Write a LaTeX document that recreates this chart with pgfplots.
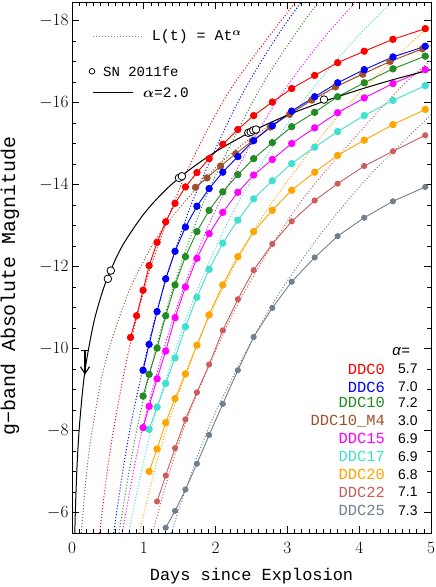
\documentclass[border=0pt]{standalone}
\usepackage{amsmath}
\usepackage{pgfplots}
\pgfplotsset{compat=1.18}
\usetikzlibrary{arrows.meta}
\usepackage{fontspec}
\setmainfont{Liberation Serif}
\newfontfamily\mono{Liberation Mono}
\newfontfamily\sans{Liberation Sans}

\definecolor{ddc0}{RGB}{255,0,0}
\definecolor{ddc6}{RGB}{0,0,255}
\definecolor{ddc10}{RGB}{34,139,34}
\definecolor{ddcm4}{RGB}{160,82,45}
\definecolor{ddc15}{RGB}{255,0,255}
\definecolor{ddc17}{RGB}{64,224,208}
\definecolor{ddc20}{RGB}{255,165,0}
\definecolor{ddc22}{RGB}{205,92,92}
\definecolor{ddc25}{RGB}{112,128,144}

\pgfplotsset{
  fit/.style={line width=1bp, dash pattern=on 1bp off 2bp, smooth},
  model/.style={line width=0.9bp, mark=*, mark size=3.2bp},
  small model/.style={line width=0.9bp, mark=*, mark size=2.6bp},
}

\begin{document}
\begin{tikzpicture}
\begin{axis}[
  scale only axis,
  width=359bp, height=531bp,
  xmin=0, xmax=5,
  ymin=-18.45, ymax=-5.5,
  y dir=reverse,
  xtick={0,1,2,3,4,5},
  ytick={-18,-16,-14,-12,-10,-8,-6},
  minor x tick num=9,
  minor y tick num=3,
  tick align=inside,
  major tick length=7bp,
  minor tick length=4bp,
  axis line style={line width=0.8bp},
  every tick/.style={black, line width=0.6bp},
  tick label style={font=\fontsize{19}{19}\selectfont},
  xticklabel style={yshift=-6bp},
  xlabel={\mono\fontsize{17}{17}\selectfont Days since Explosion},
  xlabel style={at={(axis description cs:0.5,0)}, anchor=center, yshift=-43bp},
  ylabel={\mono\fontsize{20}{20}\selectfont g−band Absolute Magnitude},
  ylabel style={at={(axis description cs:0,0.465)}, anchor=center, yshift=62bp},
]
\coordinate (sw) at (axis description cs:0,0);
\coordinate (ne) at (axis description cs:1,1);

% power-law fits L = A t^alpha
\addplot[fit, ddc0] coordinates {(0.385,-5.5)(0.481,-6.88)(0.578,-8.01)(0.770,-9.79)(0.963,-11.17)(1.155,-12.30)(1.540,-14.08)(1.925,-15.46)(2.310,-16.59)(3.080,-18.37)(3.465,-19.10)};
\addplot[fit, ddc6] coordinates {(0.58,-5.5)(0.725,-7.20)(0.870,-8.58)(1.160,-10.77)(1.450,-12.46)(1.740,-13.85)(2.320,-16.04)(2.900,-17.73)(3.480,-19.12)};
\addplot[fit, ddc10] coordinates {(0.655,-5.5)(0.819,-7.24)(0.983,-8.67)(1.310,-10.92)(1.638,-12.66)(1.965,-14.09)(2.620,-16.34)(3.275,-18.08)(3.930,-19.51)};
\addplot[fit, ddcm4] coordinates {(0.13,-5.5)(0.195,-6.82)(0.26,-7.76)(0.39,-9.08)(0.52,-10.02)(0.78,-11.34)(1.04,-12.27)(1.30,-13.00)(1.95,-14.32)(2.60,-15.26)(3.90,-16.58)(5.005,-17.39)};
\addplot[fit, ddc15] coordinates {(0.70,-5.5)(0.875,-7.17)(1.05,-8.54)(1.40,-10.69)(1.75,-12.36)(2.10,-13.73)(2.80,-15.89)(3.50,-17.56)(4.20,-18.92)};
\addplot[fit, ddc17] coordinates {(0.79,-5.5)(0.988,-7.17)(1.185,-8.54)(1.58,-10.69)(1.975,-12.36)(2.37,-13.73)(3.16,-15.89)(3.95,-17.56)(4.74,-18.92)};
\addplot[fit, ddc20] coordinates {(0.935,-5.5)(1.169,-7.15)(1.4025,-8.49)(1.87,-10.62)(2.3375,-12.26)(2.805,-13.61)(3.74,-15.74)(4.675,-17.38)(5.002,-17.88)};
\addplot[fit, ddc22] coordinates {(1.12,-5.5)(1.40,-7.22)(1.68,-8.63)(2.24,-10.84)(2.80,-12.56)(3.36,-13.97)(4.48,-16.19)(5.04,-17.09)};
\addplot[fit, ddc25] coordinates {(1.38,-5.5)(1.725,-7.27)(2.07,-8.71)(2.76,-10.99)(3.45,-12.76)(4.14,-14.21)(5.037,-15.76)};

% models
\addplot[ddc25, small model] coordinates {(1.305,-5.63)(1.435,-6.04)(1.58,-6.56)(1.74,-7.19)(1.91,-7.89)(2.10,-8.65)(2.31,-9.47)(2.53,-10.28)(2.79,-10.99)(3.06,-11.63)(3.38,-12.22)(3.70,-12.74)(4.07,-13.19)(4.47,-13.59)(4.92,-13.94)};
\addplot[ddc22, small model] coordinates {(1.185,-6.27)(1.305,-6.90)(1.435,-7.57)(1.58,-8.27)(1.74,-8.93)(1.91,-9.61)(2.10,-10.44)(2.31,-11.20)(2.53,-11.91)(2.79,-12.55)(3.06,-13.10)(3.38,-13.61)(3.70,-14.02)(4.07,-14.45)(4.47,-14.81)(4.92,-15.20)};
\addplot[model, ddc20] coordinates {(1.074,-7.00)(1.185,-7.55)(1.305,-8.19)(1.435,-8.78)(1.58,-9.38)(1.74,-10.08)(1.91,-10.82)(2.10,-11.55)(2.31,-12.24)(2.53,-12.85)(2.79,-13.37)(3.06,-13.86)(3.38,-14.30)(3.70,-14.71)(4.07,-15.08)(4.47,-15.46)(4.92,-15.83)};
\addplot[model, ddc17] coordinates {(1.074,-8.03)(1.185,-8.57)(1.305,-9.15)(1.435,-9.77)(1.58,-10.53)(1.74,-11.25)(1.91,-11.93)(2.10,-12.57)(2.31,-13.13)(2.53,-13.65)(2.79,-14.09)(3.06,-14.51)(3.38,-14.91)(3.70,-15.29)(4.07,-15.68)(4.47,-16.05)(4.92,-16.41)};
\addplot[model, ddc15] coordinates {(0.99,-8.07)(1.074,-8.59)(1.185,-9.26)(1.305,-9.94)(1.435,-10.75)(1.58,-11.50)(1.74,-12.20)(1.91,-12.80)(2.10,-13.32)(2.31,-13.81)(2.53,-14.23)(2.79,-14.61)(3.06,-15.00)(3.38,-15.38)(3.70,-15.75)(4.07,-16.11)(4.47,-16.46)(4.92,-16.80)};
\addplot[model, ddc10] coordinates {(0.99,-8.84)(1.074,-9.37)(1.185,-10.01)(1.305,-10.80)(1.435,-11.55)(1.58,-12.24)(1.74,-12.85)(1.91,-13.37)(2.10,-13.82)(2.31,-14.24)(2.53,-14.63)(2.79,-15.02)(3.06,-15.41)(3.38,-15.76)(3.70,-16.14)(4.07,-16.48)(4.47,-16.82)(4.92,-17.13)};
\addplot[model, ddcm4] coordinates {(1.72,-13.93)(1.88,-14.16)(2.07,-14.45)(2.28,-14.75)(2.51,-15.06)(2.76,-15.40)(3.03,-15.71)(3.34,-16.06)(3.67,-16.38)(4.05,-16.69)(4.43,-17.00)(4.88,-17.31)};
\addplot[model, ddc6] coordinates {(0.99,-9.47)(1.074,-10.10)(1.185,-10.90)(1.305,-11.70)(1.435,-12.37)(1.58,-12.96)(1.74,-13.47)(1.91,-13.90)(2.10,-14.30)(2.31,-14.68)(2.53,-15.07)(2.79,-15.43)(3.06,-15.79)(3.38,-16.14)(3.70,-16.48)(4.07,-16.80)(4.47,-17.11)(4.92,-17.37)};
\addplot[model, ddc0] coordinates {(0.815,-10.27)(0.90,-10.80)(0.99,-11.42)(1.074,-12.02)(1.185,-12.59)(1.305,-13.09)(1.435,-13.54)(1.58,-13.94)(1.74,-14.29)(1.91,-14.63)(2.10,-14.98)(2.31,-15.34)(2.53,-15.68)(2.79,-16.01)(3.06,-16.34)(3.38,-16.66)(3.70,-16.97)(4.07,-17.25)(4.47,-17.54)(4.92,-17.80)};

% alpha = 2 fit to SN 2011fe
\addplot[black, line width=1bp, smooth] coordinates {(0.039,-5.50)(0.05,-6.21)(0.07,-7.13)(0.1,-8.03)(0.15,-9.01)(0.2,-9.68)(0.3,-10.61)(0.4,-11.25)(0.5,-11.75)(0.7,-12.50)(1.0,-13.28)(1.3,-13.86)(1.6,-14.31)(2.0,-14.80)(2.5,-15.29)(3.0,-15.69)(3.5,-16.02)(4.0,-16.31)(4.5,-16.57)(5.0,-16.80)};

% SN 2011fe
\addplot[only marks, mark=*, mark size=3.8bp, mark options={draw=black, fill=white, line width=0.8bp}] coordinates {(0.50,-11.70)(0.54,-11.90)(1.49,-14.16)(1.53,-14.20)(2.456,-15.26)(2.489,-15.28)(2.525,-15.32)(2.563,-15.34)(3.51,-16.07)};
% upper limit
\addplot[black, line width=1.1bp, -{Straight Barb[length=7bp,width=9bp,line width=1.1bp]}] coordinates {(0.181,-9.94)(0.181,-9.36)};
\addplot[black, line width=1.1bp] coordinates {(0.125,-9.94)(0.24,-9.94)};

% legend, upper left
\addplot[gray, line width=1bp, dash pattern=on 1bp off 2bp] coordinates {(0.292,-17.61)(0.975,-17.61)};
\node[anchor=west, inner sep=0pt, font=\mono\fontsize{15}{15}\selectfont] at (axis cs:1.11,-17.61) {L(t) = At$^{\boldsymbol{\alpha}}$};
\addplot[only marks, mark=*, mark size=2.8bp, mark options={draw=black, fill=white, line width=0.8bp}] coordinates {(0.279,-16.76)};
\node[anchor=west, inner sep=0pt, font=\mono\fontsize{14}{14}\selectfont] at (axis cs:0.432,-16.76) {SN 2011fe};
\addplot[black, line width=1bp] coordinates {(0.292,-16.24)(0.85,-16.24)};
\node[anchor=west, inner sep=0pt, font=\mono\fontsize{14.5}{14.5}\selectfont] at (axis cs:0.989,-16.24) {$\boldsymbol{\alpha}$=2.0};

% legend, lower right
\node[anchor=west, inner sep=0pt, font=\sans\fontsize{15}{15}\selectfont] at (axis cs:4.46,-9.93) {\textit{α}=};
\begin{scope}[every node/.style={inner sep=0pt, font=\mono\fontsize{15.5}{15.5}\selectfont, anchor=east}]
\node[ddc0]  at (axis cs:4.36,-9.50) {DDC0};
\node[ddc6]  at (axis cs:4.36,-9.06) {DDC6};
\node[ddc10] at (axis cs:4.36,-8.68) {DDC10};
\node[ddcm4] at (axis cs:4.36,-8.23) {DDC10\_M4};
\node[ddc15] at (axis cs:4.36,-7.80) {DDC15};
\node[ddc17] at (axis cs:4.36,-7.36) {DDC17};
\node[ddc20] at (axis cs:4.36,-6.93) {DDC20};
\node[ddc22] at (axis cs:4.36,-6.50) {DDC22};
\node[ddc25] at (axis cs:4.36,-6.05) {DDC25};
\end{scope}
\begin{scope}[every node/.style={inner sep=0pt, font=\sans\fontsize{14}{14}\selectfont, anchor=west}]
\node at (axis cs:4.54,-9.50) {5.7};
\node at (axis cs:4.54,-9.06) {7.0};
\node at (axis cs:4.54,-8.68) {7.2};
\node at (axis cs:4.54,-8.23) {3.0};
\node at (axis cs:4.54,-7.80) {6.9};
\node at (axis cs:4.54,-7.36) {6.9};
\node at (axis cs:4.54,-6.93) {6.8};
\node at (axis cs:4.54,-6.50) {7.1};
\node at (axis cs:4.54,-6.05) {7.3};
\end{scope}
\end{axis}
\pgfresetboundingbox
\path ([shift={(-72bp,-54bp)}]sw) rectangle ([shift={(5bp,2bp)}]ne);
\end{tikzpicture}
\end{document}
